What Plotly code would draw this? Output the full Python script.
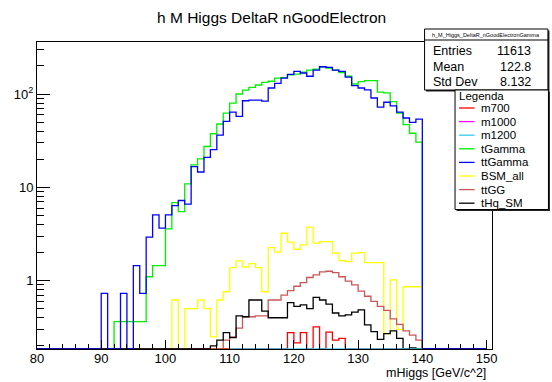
import math
import plotly.graph_objects as go

# canvas and frame (pixels)
W, H = 552, 382
ML, MR, MT, MB = 37, 59.5, 42, 33

X_MIN, X_MAX = 80, 150
X_AXIS_MAX = 150.85                              # frame extends slightly past the last bin
Y_MIN, Y_MAX = 0.185, 361.0
edges = list(range(X_MIN, X_MAX + 1))          # 1 GeV bins
n_bins = len(edges) - 1

# ---- bin contents, listed from the first filled bin ----
m700_first = 119
m700 = [0.277, 0.215, 0.277, 0.0, 0.32, 0.0, 0.28, 0.23, 0.24]

m1000_first = 110
m1000 = []

m1200_first = 110
m1200 = [0.0] * 30

tgamma_first = 92
tgamma = [0.363, 0.363, 0.363, 0.363, 0.363, 1.10, 1.45, 1.45, 3.59, 6.87,
          5.5, 10.9, 17.4, 20.2, 27.4, 37.5, 47.7, 62.5, 80.0, 100.0,
          110.0, 118.0, 125.0, 133.0, 137.0, 148.0, 150.0, 160.0, 163.0, 172.0,
          180.0, 185.0, 195.0, 190.0, 180.0, 170.0, 155.0, 128.0, 136.0, 139.0,
          139.0, 105.0, 103.0, 83.0, 62.5, 47.0, 38.0, 30.5]

ttgamma_first = 90
ttgamma = [0.73, 0.0, 0.0, 0.73, 0.0, 1.45, 0.73, 2.92, 5.07, 3.65,
           5.07, 6.38, 7.22, 6.6, 16.7, 14.6, 20.9, 25.3, 36.3, 50.8,
           64.1, 57.5, 84.7, 86.0, 86.0, 84.0, 116.0, 130.0, 148.0, 162.0,
           175.0, 168.0, 155.0, 180.0, 196.0, 193.0, 180.0, 175.0, 152.0, 123.0,
           116.0, 111.0, 90.6, 72.5, 81.6, 74.8, 64.1, 55.3, 49.6, 53.9]

bsm_first = 101
bsm_all = [0.62, 0.0, 0.5, 0.5, 0.62, 0.5, 0.25, 0.62, 0.76, 1.38,
           1.63, 1.4, 1.52, 1.38, 0.76, 2.26, 2.02, 3.22, 2.58, 2.17,
           2.42, 3.74, 2.52, 2.62, 2.62, 1.97, 1.64, 1.6, 1.97, 2.0,
           1.56, 1.56, 1.56, 0.27, 1.02, 0.3, 0.86, 0.86, 0.86]

ttgg_first = 109
ttgg = [0.23, 0.25, 0.31, 0.41, 0.41, 0.42, 0.42, 0.62, 0.62, 0.7,
        0.78, 0.87, 0.95, 1.08, 1.15, 1.24, 1.26, 1.22, 1.1, 0.99,
        0.9, 0.77, 0.68, 0.6, 0.53, 0.48, 0.39, 0.34, 0.29, 0.26, 0.23]

thq_first = 107
thq_sm = [0.2, 0.23, 0.277, 0.245, 0.42, 0.41, 0.62, 0.62, 0.47, 0.4,
          0.4, 0.4, 0.58, 0.53, 0.55, 0.5, 0.66, 0.62, 0.56, 0.45,
          0.42, 0.43, 0.46, 0.485, 0.335, 0.284, 0.235, 0.27, 0.29, 0.24,
          0.0, 0.19, 0.0]

legend_names = ["m700", "m1000", "m1200", "tGamma", "ttGamma", "BSM_all", "ttGG", "tHq_SM"]
colors = {"m700": "#ff0000", "m1000": "#ff00ff", "m1200": "#33ccee",
          "tGamma": "#00ee00", "ttGamma": "#0000ff", "BSM_all": "#ffff00",
          "ttGG": "#cc5555", "tHq_SM": "#000000"}

stats_title = "h_M_Higgs_DeltaR_nGoodElectronGamma"
stats_rows = [("Entries", "11613"), ("Mean", "122.8"), ("Std Dev", "8.132")]

hist_title = "h M Higgs DeltaR nGoodElectron"
x_title = "mHiggs [GeV/c^2]"


def full_content(first, vals):
    content = [0.0] * n_bins
    for i, v in enumerate(vals):
        content[first - X_MIN + i] = v
    return content


def outline(first, vals, full=True):
    """Step outline of a histogram; empty bins lie on the lower frame edge."""
    if full:
        content = full_content(first, vals)
        xs = edges
    else:
        content = list(vals)
        xs = edges[first - X_MIN: first - X_MIN + len(vals) + 1]
    ys = [v if v > 0 else Y_MIN for v in content]
    return xs, ys + [ys[-1]]


fig = go.Figure()

draw_order = [
    ("m700", m700_first, m700, True),
    ("tGamma", tgamma_first, tgamma, True),
    ("BSM_all", bsm_first, bsm_all, True),
    ("ttGG", ttgg_first, ttgg, True),
    ("tHq_SM", thq_first, thq_sm, True),
    ("ttGamma", ttgamma_first, ttgamma, True),
    ("m1200", m1200_first, m1200, False),
]
for name, first, vals, full in draw_order:
    xs, ys = outline(first, vals, full)
    fig.add_trace(go.Scatter(
        x=xs, y=ys, mode="lines", name=name,
        line=dict(shape="hv", color=colors[name], width=1.3),
        hoverinfo="skip", showlegend=False))

# ---- helpers for placing decorations in pixel terms ----
PW = W - ML - MR
PH = H - MT - MB


def fx(px):
    return (px - ML) / PW


def fy(py):
    return (H - MB - py) / PH


FONT = "Liberation Sans, Arial, Helvetica, sans-serif"
shapes = []
annotations = []

# title
annotations.append(dict(x=fx(272), y=fy(18), xref="paper", yref="paper",
                        text=hist_title, showarrow=False,
                        font=dict(family=FONT, size=15.5, color="black"),
                        xanchor="center", yanchor="middle"))
# x axis title
annotations.append(dict(x=fx(488), y=fy(372.5), xref="paper", yref="paper",
                        text=x_title, showarrow=False,
                        font=dict(family=FONT, size=12.5, color="black"),
                        xanchor="right", yanchor="middle"))

# statistics box
sx0, sx1, sy0, sy1, sy_head = 425, 548.5, 29, 90, 40
shapes.append(dict(type="rect", xref="paper", yref="paper",
                   x0=fx(sx0 + 1.5), x1=fx(sx1 + 1.5), y0=fy(sy0 + 1.5), y1=fy(sy1 + 1.5),
                   line=dict(width=0), fillcolor="#222222", layer="above"))
shapes.append(dict(type="rect", xref="paper", yref="paper",
                   x0=fx(sx0), x1=fx(sx1), y0=fy(sy0), y1=fy(sy1),
                   line=dict(color="black", width=1), fillcolor="white", layer="above"))
shapes.append(dict(type="line", xref="paper", yref="paper",
                   x0=fx(sx0), x1=fx(sx1), y0=fy(sy_head), y1=fy(sy_head),
                   line=dict(color="black", width=1), layer="above"))
annotations.append(dict(x=fx((sx0 + sx1) / 2), y=fy(34.5), xref="paper", yref="paper",
                        text=stats_title, showarrow=False,
                        font=dict(family=FONT, size=5.5, color="black"),
                        xanchor="center", yanchor="middle"))
for i, (lab, val) in enumerate(stats_rows):
    yy = 50.5 + i * 16
    annotations.append(dict(x=fx(431), y=fy(yy), xref="paper", yref="paper",
                            text=lab, showarrow=False,
                            font=dict(family=FONT, size=12.5, color="black"),
                            xanchor="left", yanchor="middle"))
    annotations.append(dict(x=fx(534), y=fy(yy), xref="paper", yref="paper",
                            text=val, showarrow=False,
                            font=dict(family=FONT, size=12.5, color="black"),
                            xanchor="right", yanchor="middle"))

# legend box
lx0, lx1, ly0, ly1 = 455.5, 549, 90, 209.5
shapes.append(dict(type="rect", xref="paper", yref="paper",
                   x0=fx(lx0 + 1.5), x1=fx(lx1 + 1.5), y0=fy(ly0 + 1.5), y1=fy(ly1 + 1.5),
                   line=dict(width=0), fillcolor="#222222", layer="above"))
shapes.append(dict(type="rect", xref="paper", yref="paper",
                   x0=fx(lx0), x1=fx(lx1), y0=fy(ly0), y1=fy(ly1),
                   line=dict(color="black", width=1), fillcolor="white", layer="above"))
annotations.append(dict(x=fx(457.5), y=fy(96), xref="paper", yref="paper",
                        text="Legenda", showarrow=False,
                        font=dict(family=FONT, size=11.5, color="black"),
                        xanchor="left", yanchor="middle"))
for i, name in enumerate(legend_names):
    yy = 108 + i * 13.6
    shapes.append(dict(type="line", xref="paper", yref="paper",
                       x0=fx(459.5), x1=fx(475), y0=fy(yy), y1=fy(yy),
                       line=dict(color=colors[name], width=1.3), layer="above"))
    annotations.append(dict(x=fx(479), y=fy(yy), xref="paper", yref="paper",
                            text=name, showarrow=False,
                            font=dict(family=FONT, size=11.5, color="black"),
                            xanchor="left", yanchor="middle"))

minor_y = [m * 10 ** d for d in (-1, 0, 1, 2) for m in range(2, 10)]
minor_y = [v for v in minor_y if Y_MIN <= v <= Y_MAX]

fig.update_layout(
    width=W, height=H,
    margin=dict(l=ML, r=MR, t=MT, b=MB, pad=0),
    paper_bgcolor="white", plot_bgcolor="white",
    showlegend=False,
    shapes=shapes, annotations=annotations,
    xaxis=dict(range=[X_MIN, X_AXIS_MAX], showgrid=False, zeroline=False,
               showline=True, mirror=True, linecolor="black", linewidth=1,
               ticks="inside", ticklen=9, tickcolor="black", tick0=80, dtick=10,
               ticklabelstandoff=-3,
               minor=dict(ticks="inside", ticklen=5, dtick=2, tickcolor="black", showgrid=False),
               tickfont=dict(family=FONT, size=13, color="black")),
    yaxis=dict(type="log", range=[math.log10(Y_MIN), math.log10(Y_MAX)],
               showgrid=False, zeroline=False,
               showline=True, mirror=True, linecolor="black", linewidth=1,
               ticks="inside", ticklen=13, tickcolor="black",
               tickmode="array", tickvals=[1, 10, 100], ticktext=["1", "10", "10<sup>2</sup>"],
               minor=dict(ticks="inside", ticklen=7, tickmode="array", tickvals=minor_y,
                          tickcolor="black", showgrid=False),
               tickfont=dict(family=FONT, size=13, color="black")),
)

fig.write_html("out.html")
